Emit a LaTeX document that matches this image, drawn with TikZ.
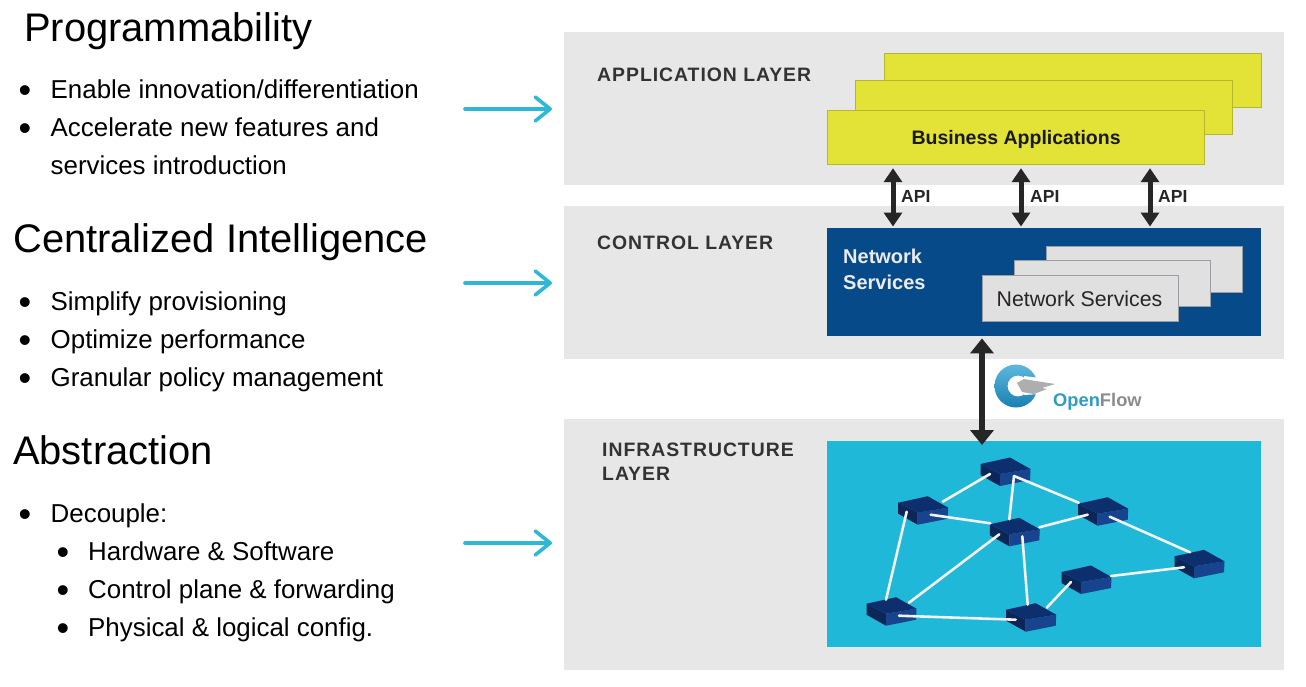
\documentclass[tikz,border=0pt]{standalone}
\usepackage{fontspec}
\setmainfont{Liberation Sans}
\newfontfamily\lblfont[LetterSpace=5]{Liberation Sans}
\usetikzlibrary{arrows.meta,calc}
\definecolor{layergray}{HTML}{E7E7E7}
\definecolor{appyellow}{HTML}{E3E337}
\definecolor{yellowedge}{HTML}{B5B72E}
\definecolor{ctrlblue}{HTML}{064A8A}
\definecolor{infracyan}{HTML}{1FB8D8}
\definecolor{svcgray}{HTML}{E0E0E0}
\definecolor{svcedge}{HTML}{9A9EA4}
\definecolor{arrowcyan}{HTML}{2FB8D5}
\definecolor{swtop}{HTML}{0D2F6E}
\definecolor{swfront}{HTML}{17438F}
\definecolor{swside}{HTML}{0B2657}
\definecolor{labelgray}{HTML}{333333}
\definecolor{ofblue}{HTML}{2E9CC6}
\definecolor{ofgray}{HTML}{8C8C8C}
\definecolor{ringtop}{HTML}{5DB8DC}
\definecolor{ringbottom}{HTML}{1A7FB2}
\tikzset{
  x=1pt,y=-1pt,
  layer/.style={fill=layergray,draw=none},
  heading/.style={anchor=base west,inner sep=0pt,font=\fontsize{39.9}{39.9}\selectfont},
  item/.style={anchor=base west,inner sep=0pt,font=\fontsize{25.9}{25.9}\selectfont},
  dot/.style={anchor=base,inner sep=0pt,font=\fontsize{36}{36}\selectfont},
  layerlabel/.style={anchor=base west,inner sep=0pt,text=labelgray,font=\fontsize{19.4}{19.4}\selectfont\lblfont\bfseries},
  yellowbox/.style={draw=yellowedge,line width=1.2pt,fill=appyellow,anchor=north west,inner sep=0pt,minimum width=377pt,minimum height=54pt},
  svcbox/.style={draw=svcedge,line width=1pt,fill=svcgray,anchor=north west,inner sep=0pt,minimum width=196pt,minimum height=46pt},
  pointer/.style={draw=arrowcyan,line width=3.6pt,line cap=round,-{Straight Barb[round,length=15pt,width=24pt,line width=3.6pt]}},
  apilink/.style={draw=black!85,line width=5pt,{Triangle[length=14pt,width=18pt]}-{Triangle[length=14pt,width=18pt]}},
  oflink/.style={draw=black!85,line width=6pt,{Triangle[length=15pt,width=23pt]}-{Triangle[length=15pt,width=23pt]}},
  apitext/.style={anchor=base west,inner sep=0pt,text=black!85,font=\fontsize{17.5}{17.5}\selectfont\bfseries},
  netlink/.style={draw=white!95!black,line width=2.6pt,line cap=round},
}
\newcommand{\switchat}[3]{%
  \begin{scope}[shift={(#2,#3)}]
    \fill[swside] (-24.5,-8) -- (-5,2) -- (-5,14) -- (-24.5,3) -- cycle;
    \fill[swfront] (-5,2) -- (25.5,-3) -- (25,8) -- (-5,14) -- cycle;
    \fill[swtop] (-24.5,-8) -- (5,-14.5) -- (25.5,-3) -- (-5,2) -- cycle;
  \end{scope}
  \coordinate (#1) at (#2,#3);}
\begin{document}
\begin{tikzpicture}
\useasboundingbox (0,0) rectangle (1306,686);
\fill[white] (0,0) rectangle (1306,686);

% left column
\node[heading] (h1) at (24,41) {Programmability};
\node[dot] (d1) at (25,102) {•};
\node[item] (t1) at (50.5,98) {Enable innovation/differentiation};
\node[dot] (d2) at (25,140) {•};
\node[item] (t2) at (50.5,136) {Accelerate new features and};
\node[item] (t3) at (50.5,174) {services introduction};

\node[heading] (h2) at (13,252) {Centralized Intelligence};
\node[dot] (d3) at (25,314) {•};
\node[item] (t4) at (50.5,310) {Simplify provisioning};
\node[dot] (d4) at (25,352) {•};
\node[item] (t5) at (50.5,348) {Optimize performance};
\node[dot] (d5) at (25,390) {•};
\node[item] (t6) at (50.5,386) {Granular policy management};

\node[heading] (h3) at (13,464) {Abstraction};
\node[dot] (d6) at (25,526) {•};
\node[item] (t7) at (50.5,522) {Decouple:};
\node[dot] (d7) at (63,564) {•};
\node[item] (t8) at (88,560) {Hardware \& Software};
\node[dot] (d8) at (63,602) {•};
\node[item] (t9) at (88,598) {Control plane \& forwarding};
\node[dot] (d9) at (63,640) {•};
\node[item] (t10) at (88,636) {Physical \& logical config.};

% layers
\fill[layer] (564,32) rectangle (1284,185);
\fill[layer] (564,206) rectangle (1284,359);
\fill[layer] (564,419) rectangle (1284,670);
\coordinate (layA) at (564,109);
\coordinate (layB) at (564,283);
\coordinate (layC) at (564,543);
\coordinate (srcA) at (465,109);
\coordinate (srcB) at (465,283);
\coordinate (srcC) at (465,543);
\draw[pointer] (srcA) -- ($(layA)+(-12,0)$);
\draw[pointer] (srcB) -- ($(layB)+(-12,0)$);
\draw[pointer] (srcC) -- ($(layC)+(-12,0)$);

\node[layerlabel] (l1) at (597,81) {APPLICATION LAYER};
\node[layerlabel] (l2) at (597,249) {CONTROL LAYER};
\node[layerlabel] (l3) at (602,456) {INFRASTRUCTURE};
\node[layerlabel] (l4) at (602,480) {LAYER};

% application stack
\node[yellowbox] (ya) at (884,53) {};
\node[yellowbox] (yb) at (855,80) {};
\node[yellowbox] (biz) at (827,110) {};
\node[inner sep=0pt,text=black!90,font=\fontsize{19.5}{19.5}\selectfont\bfseries,yshift=-1.5pt] (bizt) at (biz.center) {Business Applications};

% control
\node[fill=ctrlblue,anchor=north west,inner sep=0pt,minimum width=434pt,minimum height=108pt] (ctrl) at (827,228) {};
\node[anchor=base west,inner sep=0pt,text=white!92!black,font=\fontsize{20}{20}\selectfont\bfseries] (n1) at (843,263) {Network};
\node[anchor=base west,inner sep=0pt,text=white!92!black,font=\fontsize{20}{20}\selectfont\bfseries] (n2) at (843,289) {Services};
\node[svcbox] (sa) at (1046,246) {};
\node[svcbox] (sb) at (1014,260) {};
\node[svcbox] (sc) at (982,275) {};
\node[inner sep=0pt,text=black!85,font=\fontsize{21.3}{21.3}\selectfont,xshift=-1pt] (sct) at (sc.center) {Network Services};

% infrastructure
\node[fill=infracyan,anchor=north west,inner sep=0pt,minimum width=434pt,minimum height=206pt] (infra) at (827,441) {};

% API arrows
\coordinate (c1) at (893,196);
\coordinate (c2) at (1021,196);
\coordinate (c3) at (1150,196);
\draw[apilink] (biz.south -| c1) ++(0,3) -- ($(ctrl.north -| c1)+(0,-1.5)$);
\draw[apilink] (biz.south -| c2) ++(0,3) -- ($(ctrl.north -| c2)+(0,-1.5)$);
\draw[apilink] (biz.south -| c3) ++(0,3) -- ($(ctrl.north -| c3)+(0,-1.5)$);
\node[apitext] (a1) at (901,202) {API};
\node[apitext] (a2) at (1030,202) {API};
\node[apitext] (a3) at (1158,202) {API};

% OpenFlow link
\coordinate (c4) at (982,390);
\draw[oflink] ($(ctrl.south -| c4)+(0,2)$) -- ($(infra.north -| c4)+(0,4)$);

% OpenFlow logo
\shade[top color=ringtop,bottom color=ringbottom,even odd rule]
  (1016,386) circle[radius=21.5] (1018,386) circle[radius=10.5];
\fill[white] (1024,376) -- (1040,378) -- (1040,394) -- (1024,395) -- cycle;
\fill[ofgray!70!white] (1017,383) -- (1024,379) -- (1036,381) -- (1055,384) -- (1042,388) -- (1047,389) -- (1034,394) -- (1022,392) -- cycle;
\node[anchor=base west,inner sep=0pt,font=\fontsize{18.3}{18.3}\selectfont\bfseries] (oft) at (1053,406) {\textcolor{ofblue}{Open}\textcolor{ofgray}{Flow}};

% switches
\switchat{s1}{1005}{472}
\switchat{s2}{922.7}{510.7}
\switchat{s3}{1014.3}{532.3}
\switchat{s4}{1102.7}{511.7}
\switchat{s5}{1199}{564.3}
\switchat{s6}{1086}{580}
\switchat{s7}{1030.7}{617.7}
\switchat{s8}{891}{611.7}

% links
\draw[netlink] ($(s1)+(-15,2)$) -- ($(s2)+(20,-9)$);
\draw[netlink] ($(s1)+(9,4)$) -- ($(s3)+(-5,-13)$);
\draw[netlink] ($(s1)+(9,4)$) -- ($(s4)+(-24,-9)$);
\draw[netlink] ($(s2)+(8,4)$) -- ($(s3)+(-24,-9)$);
\draw[netlink] ($(s2)+(-16,1)$) -- ($(s8)+(-5,-12)$);
\draw[netlink] ($(s3)+(25,-5)$) -- ($(s4)+(-15,3)$);
\draw[netlink] ($(s3)+(-15,2)$) -- ($(s8)+(18,-9)$);
\draw[netlink] ($(s3)+(8,4)$) -- ($(s7)+(-3,-13)$);
\draw[netlink] ($(s4)+(7,5)$) -- ($(s5)+(-9,-12)$);
\draw[netlink] ($(s5)+(-15,3)$) -- ($(s6)+(25,-4)$);
\draw[netlink] ($(s6)+(-15,2)$) -- ($(s7)+(16,-10)$);
\draw[netlink] ($(s7)+(-15,2)$) -- ($(s8)+(8,4)$);
\end{tikzpicture}
\end{document}
